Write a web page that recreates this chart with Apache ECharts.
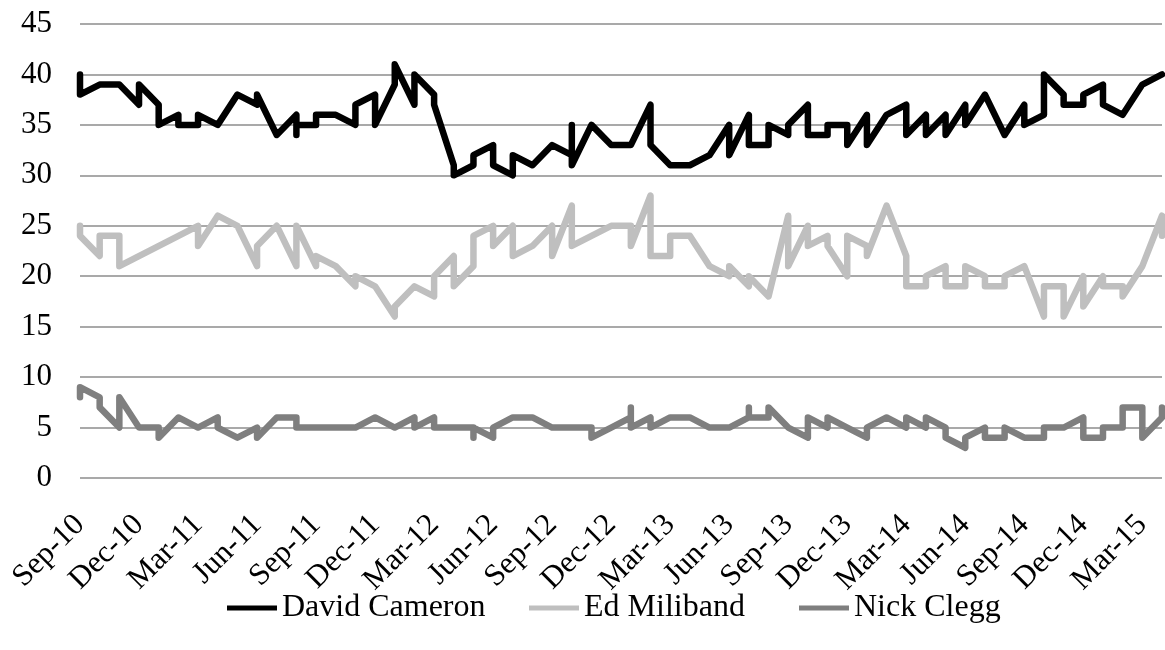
<!DOCTYPE html>
<html><head><meta charset="utf-8">
<script src="https://cdn.jsdelivr.net/npm/echarts@6/dist/echarts.min.js"></script>
<style>html,body{margin:0;padding:0;background:#fff}#c{width:1165px;height:650px}</style>
</head><body><div id="c"></div>
<script>
// Month index 0 = Sep-10 ... 55 = Apr-15; several polls in one month share the same x
const monthLabels = ["Sep-10","Oct-10","Nov-10","Dec-10","Jan-11","Feb-11","Mar-11","Apr-11","May-11","Jun-11",
  "Jul-11","Aug-11","Sep-11","Oct-11","Nov-11","Dec-11","Jan-12","Feb-12","Mar-12","Apr-12",
  "May-12","Jun-12","Jul-12","Aug-12","Sep-12","Oct-12","Nov-12","Dec-12","Jan-13","Feb-13",
  "Mar-13","Apr-13","May-13","Jun-13","Jul-13","Aug-13","Sep-13","Oct-13","Nov-13","Dec-13",
  "Jan-14","Feb-14","Mar-14","Apr-14","May-14","Jun-14","Jul-14","Aug-14","Sep-14","Oct-14",
  "Nov-14","Dec-14","Jan-15","Feb-15","Mar-15","Apr-15"];
const xTickLabels = ["Sep-10","Dec-10","Mar-11","Jun-11","Sep-11","Dec-11","Mar-12","Jun-12","Sep-12","Dec-12",
  "Mar-13","Jun-13","Sep-13","Dec-13","Mar-14","Jun-14","Sep-14","Dec-14","Mar-15"];
const yTicks = [0,5,10,15,20,25,30,35,40,45];
const seriesNames = ["David Cameron","Ed Miliband","Nick Clegg"];

const cameron = [
 [40,38],[39],[39],[37,39],[37,35],[36,35],[35,36],[35],[38],[37,38],
 [34],[36,34,35],[35,36],[36],[35,37],[38,35],[39,41],[37,40],[38,37],[31,30],
 [31,32],[33,31],[30,32],[31],[33],[32,35,31],[35],[33],[33],[37,33],
 [31],[31],[32],[35,32],[36,33],[33,35],[34,35],[37,34],[34,35],[35,33],
 [36,33],[36],[37,34],[36,34],[36,34],[37,35],[38],[34],[37,35],[36,40],
 [38,37],[37,38],[39,37],[36],[39],[40]
];
const miliband = [
 [25,24],[22,24],[24,21],[],[],[],[25,23],[26],[25],[21,23],
 [25],[21,25],[21,22],[21],[19,20],[19],[16,17],[19],[18,20],[22,19],
 [21,24],[25,23],[25,22],[23],[25,22],[27,23],[24],[25],[25,23],[28,22],
 [22,24],[24],[21],[20,21],[19,20],[18],[26,21],[25,23],[24,23],[20,24],
 [23,22],[27],[22,19],[19,20],[21,19],[19,21],[20,19],[19,20],[21],[16,19],
 [19,16],[20,17],[20,19],[19,18],[21],[26,24]
];
const clegg = [
 [8,9],[8,7],[5,8],[5],[5,4],[6],[5],[6,5],[4],[5,4],
 [6],[6,5],[5],[5],[5],[6],[5],[6,5],[6,5],[5],
 [5,4,5],[4,5],[6],[6],[5],[5],[5,4],[5],[6,7,5],[6,5],
 [6],[6],[5],[5],[6,7,6],[6,7],[5],[4,6],[5,6],[5],
 [4,5],[6],[5,6],[5,6],[5,4],[3,4],[5,4],[4,5],[4],[4,5],
 [5],[6,4],[4,5],[5,7],[7,4],[6,7]
];

function toPoints(arr){
  const pts = [];
  arr.forEach((vals, m) => vals.forEach(v => pts.push([m, v])));
  return pts;
}
const FONT = 'Liberation Serif';
const colors = ['#000000', '#bfbfbf', '#7f7f7f'];
const legendLeft = [222, 524, 794];
const chart = echarts.init(document.getElementById('c'), null, {renderer: 'canvas'});
const mk = (name, arr, color) => ({
  name, type: 'line', data: toPoints(arr), symbol: 'none', showSymbol: false,
  lineStyle: {color: color, width: 6.5, join: 'round', cap: 'round'},
  itemStyle: {color: color},
  emphasis: {disabled: true}
});
chart.setOption({
  animation: false,
  grid: {left: 80, right: 3, top: 24, bottom: 172, containLabel: false},
  xAxis: {
    type: 'value', min: 0, max: monthLabels.length - 1, interval: 3,
    axisLine: {show: false}, axisTick: {show: false}, splitLine: {show: false},
    axisLabel: {
      rotate: 45, margin: 42, fontFamily: FONT, fontSize: 31, color: '#000',
      formatter: v => (v % 3 === 0 && xTickLabels[v / 3]) ? xTickLabels[v / 3] : ''
    }
  },
  yAxis: {
    type: 'value', min: yTicks[0], max: yTicks[yTicks.length - 1], interval: 5,
    axisLine: {show: false}, axisTick: {show: false},
    splitLine: {show: true, lineStyle: {color: '#8c8c8c', width: 1.5}},
    axisLabel: {margin: 28, fontFamily: FONT, fontSize: 31, color: '#000'}
  },
  legend: seriesNames.map((n, i) => ({
    top: 587, left: legendLeft[i], icon: 'rect', itemWidth: 50, itemHeight: 5,
    textStyle: {fontFamily: FONT, fontSize: 32, color: '#000'},
    data: [n]
  })),
  series: [
    mk(seriesNames[0], cameron, colors[0]),
    mk(seriesNames[1], miliband, colors[1]),
    mk(seriesNames[2], clegg, colors[2])
  ]
});
</script></body></html>
